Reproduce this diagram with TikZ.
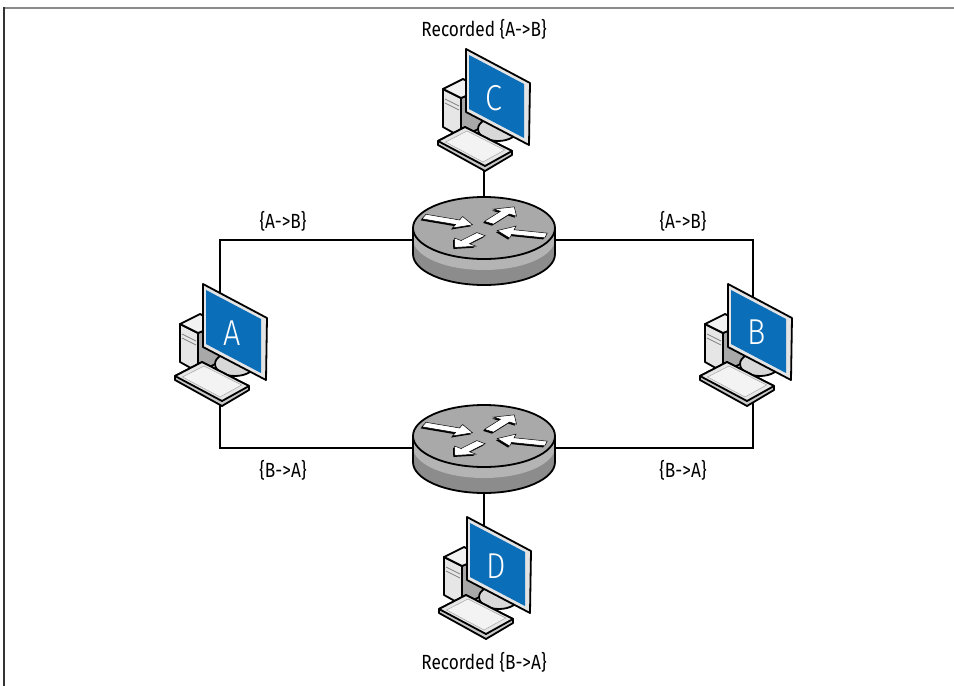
\documentclass[tikz,border=0pt]{standalone}
\usepackage{fontspec}
\setmainfont{Fira Sans}[FakeStretch=0.84]
\newfontfamily\letterfont{Fira Sans Light}[FakeStretch=0.85]
\definecolor{scrblue}{HTML}{0B6EB8}
\definecolor{bezel}{HTML}{E4E4E4}
\definecolor{towerfront}{HTML}{E6E6E6}
\definecolor{towertop}{HTML}{F2F2F2}
\definecolor{towerside}{HTML}{A8A8A8}
\definecolor{standgray}{HTML}{D8D8D8}
\definecolor{kbtop}{HTML}{E6E6E6}
\definecolor{kbkeys}{HTML}{F3F3F3}
\definecolor{kbedge}{HTML}{C8C8C8}
\definecolor{rtop}{HTML}{A9A9A9}
\definecolor{rband}{HTML}{B4B4B4}
\definecolor{rside}{HTML}{8C8C8C}
\definecolor{frametop}{HTML}{8A8A8A}
\definecolor{frameleft}{HTML}{333333}
\newcommand\rtarrow[4]{%
  \fill[black, shift={(#1-1.5,#2-3.5)}, rotate=#3] (0,-5.5) -- ({#4-16},-5.5) -- ({#4-16},-14) -- (#4,0) -- ({#4-16},14) -- ({#4-16},5.5) -- (0,5.5) -- cycle;
  \filldraw[fill=white, draw=black, line width=0.5pt, shift={(#1,#2)}, rotate=#3] (0,-5.5) -- ({#4-16},-5.5) -- ({#4-16},-14) -- (#4,0) -- ({#4-16},14) -- ({#4-16},5.5) -- (0,5.5) -- cycle;}
\tikzset{
  wire/.style={line width=2pt, draw=black},
  outl/.style={draw=black, line width=1.8pt, line join=round},
  lbl/.style={font=\fontsize{20.5}{24}\selectfont, inner sep=0pt},
  scrletter/.style={font=\letterfont\fontsize{36}{40}\selectfont, text=white, inner sep=0pt},
  computer/.pic={
    % tower
    \filldraw[outl, fill=towerside] (-5,-49) -- (17,-40) -- (17,-78) -- (-5,-88) -- cycle;
    \filldraw[outl, fill=towerfront] (-23,-40) -- (-5,-49) -- (-5,-88) -- (-23,-78) -- cycle;
    \filldraw[outl, fill=towertop] (-23,-40) -- (-3,-30) -- (17,-40) -- (-5,-49) -- cycle;
    \draw[gray, line width=0.8pt] (-21,-50) -- (-7,-57) (-21,-54) -- (-7,-61);
    % stand
    \filldraw[outl, fill=standgray] (32,-80) ellipse[x radius=20, y radius=12];
    % monitor
    \filldraw[outl, fill=bezel] (0,0) -- (64,-34) -- (63,-96) -- (0,-63) -- cycle;
    \fill[scrblue] (3,-6) -- (58,-35) -- (58,-89) -- (3,-60) -- cycle;
    % keyboard
    \filldraw[outl, fill=kbedge] (-28,-92) -- (-1,-78) -- (46,-102) -- (46,-106) -- (19,-122) -- (-28,-96) -- cycle;
    \filldraw[outl, fill=kbtop] (-28,-92) -- (-1,-78) -- (46,-102) -- (19,-117) -- cycle;
    \filldraw[draw=gray!70, fill=kbkeys, line width=0.5pt] (-20.5,-93) -- (1,-82) -- (38.7,-101) -- (17,-113) -- cycle;
  },
  router/.pic={
    \fill[rside] (-71,0) -- (-71,-26) arc[start angle=180, end angle=360, x radius=71, y radius=31] -- (71,0) arc[start angle=0, end angle=-180, x radius=71, y radius=31] -- cycle;
    \fill[rband] (-71,0) arc[start angle=180, end angle=360, x radius=71, y radius=31] -- (71,-11) arc[start angle=0, end angle=-180, x radius=71, y radius=31] -- cycle;
    \draw[outl] (-71,0) -- (-71,-26) arc[start angle=180, end angle=360, x radius=71, y radius=31] -- (71,0);
    \filldraw[outl, fill=rtop] (0,0) ellipse[x radius=71, y radius=31];
    \begin{scope}[yscale=0.44]
      \rtarrow{-60}{26}{-21}{52}
      \rtarrow{62}{-17}{167}{50}
      \rtarrow{5}{12}{55}{44}
      \rtarrow{-3}{-14}{229}{40}
    \end{scope}
    \coordinate (-w) at (-71,-12);
    \coordinate (-e) at (71,-12);
    \coordinate (-n) at (0,31);
    \coordinate (-s) at (0,-57);
  }
}
\begin{document}
\begin{tikzpicture}[x=1pt, y=1pt]
\useasboundingbox (0,0) rectangle (954,-686);
\fill[white] (0,0) rectangle (954,-686);
% frame
\draw[frametop, line width=2pt] (3,-7.5) -- (954,-7.5);
\draw[frameleft, line width=2pt] (4,-7) -- (4,-686);
% cable end points
\coordinate (Ain) at (220,-300);
\coordinate (Aout) at (220,-400);
\coordinate (Bin) at (753,-300);
\coordinate (Bout) at (753,-400);
\coordinate (Cout) at (484,-168);
\coordinate (Din) at (484,-530);
% routers
\pic (R1) at (484,-228) {router};
\pic (R2) at (484,-436) {router};
% wires
\draw[wire] (Ain) |- (R1-w);
\draw[wire] (R1-e) -| (Bin);
\draw[wire] (Aout) |- (R2-w);
\draw[wire] (R2-e) -| (Bout);
\draw[wire] (Cout) -- (R1-n);
\draw[wire] (R2-s) -- (Din);
% computers
\pic (PA) at (203,-284) {computer};
\pic (PB) at (728,-284) {computer};
\pic (PC) at (466,-49) {computer};
\pic (PD) at (467,-517) {computer};
\node[scrletter] (A) at (232,-333) {A};
\node[scrletter] (B) at (757,-332) {B};
\node[scrletter] (C) at (494,-98) {C};
\node[scrletter] (D) at (496,-566) {D};
% labels
\node[lbl] (recC) at (484,-29) {Recorded \{A->B\}};
\node[lbl] (recD) at (484,-662) {Recorded \{B->A\}};
\node[lbl] (l1) at (283,-221) {\{A->B\}};
\node[lbl] (l2) at (683,-221) {\{A->B\}};
\node[lbl] (l3) at (283,-470) {\{B->A\}};
\node[lbl] (l4) at (683,-470) {\{B->A\}};
\end{tikzpicture}
\end{document}
